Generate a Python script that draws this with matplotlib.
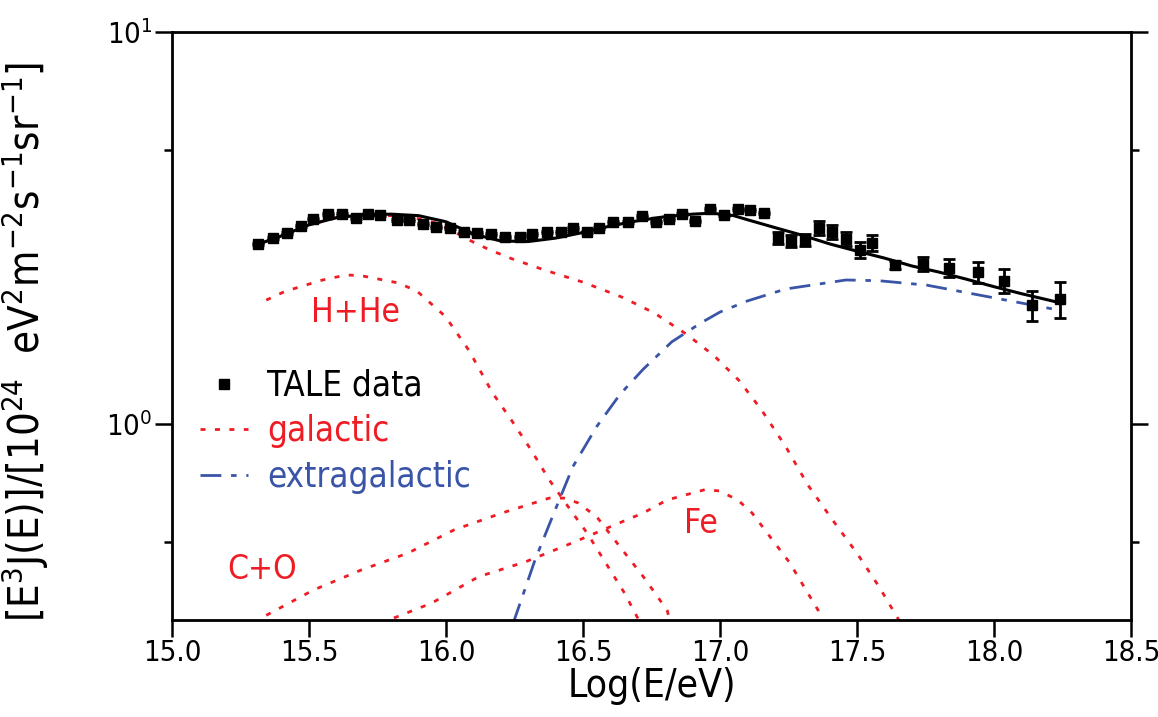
import numpy as np
import matplotlib
matplotlib.use('Agg')
import matplotlib.pyplot as plt
from matplotlib.ticker import FixedLocator, NullFormatter
from matplotlib.lines import Line2D

#narrow sans to get close to the original lettering
plt.rcParams['font.family'] = ['DejaVu Sans']
plt.rcParams['font.stretch'] = 'condensed'
plt.rcParams['mathtext.fontset'] = 'custom'
plt.rcParams['mathtext.rm'] = 'DejaVu Sans:stretch=condensed'
plt.rcParams['mathtext.it'] = 'DejaVu Sans:stretch=condensed'
plt.rcParams['mathtext.bf'] = 'DejaVu Sans:stretch=condensed'

RED = '#ee1c24'
BLUE = '#3a55a8'

#TALE data points
tale_logE = [15.315, 15.37, 15.42, 15.47, 15.515, 15.57, 15.62, 15.67, 15.715, 15.76,
             15.82, 15.865, 15.915, 15.965, 16.015, 16.065, 16.115, 16.165, 16.215, 16.27,
             16.315, 16.37, 16.42, 16.465, 16.515, 16.56, 16.61, 16.665, 16.715, 16.765,
             16.815, 16.86, 16.91, 16.965, 17.015, 17.065, 17.11, 17.16, 17.21, 17.26,
             17.31, 17.36, 17.41, 17.46, 17.51, 17.555, 17.64, 17.74, 17.835, 17.94,
             18.035, 18.14, 18.24]
tale_flux = [2.88, 2.98, 3.07, 3.20, 3.33, 3.43, 3.43, 3.36, 3.43, 3.41,
             3.31, 3.31, 3.24, 3.18, 3.16, 3.09, 3.07, 3.05, 3.00, 3.00,
             3.05, 3.09, 3.09, 3.16, 3.09, 3.16, 3.28, 3.28, 3.39, 3.28,
             3.33, 3.43, 3.30, 3.54, 3.41, 3.54, 3.51, 3.45, 2.98, 2.93,
             2.95, 3.16, 3.09, 2.96, 2.78, 2.90, 2.54, 2.56, 2.50, 2.44,
             2.32, 2.01, 2.08]
tale_err = [0.02]*38 + [0.11, 0.11, 0.11, 0.13, 0.13, 0.12, 0.13, 0.14,
                        0.06, 0.10, 0.13, 0.15, 0.16, 0.18, 0.22]

#total fit
tot_logE = [15.33, 15.4, 15.5, 15.6, 15.7, 15.8, 15.9, 16.0, 16.1, 16.2,
            16.3, 16.4, 16.5, 16.6, 16.7, 16.8, 16.9, 16.97, 17.05, 17.1,
            17.2, 17.3, 17.4, 17.5, 17.6, 17.7, 17.8, 17.9, 18.0, 18.1,
            18.2, 18.25]
tot_flux = [2.90, 3.02, 3.22, 3.36, 3.42, 3.43, 3.40, 3.28, 3.05, 2.93,
            2.92, 2.98, 3.08, 3.20, 3.30, 3.38, 3.43, 3.45, 3.40, 3.32,
            3.17, 3.03, 2.88, 2.76, 2.65, 2.53, 2.44, 2.34, 2.24, 2.15,
            2.07, 2.03]

#galactic total
gal_logE = [15.33, 15.4, 15.5, 15.6, 15.7, 15.8, 15.9, 15.97, 16.03, 16.1,
            16.16, 16.24, 16.36, 16.5, 16.64, 16.76, 16.88, 16.98, 17.07, 17.15,
            17.24, 17.32, 17.41, 17.5, 17.58, 17.66]
gal_flux = [2.90, 3.02, 3.22, 3.36, 3.41, 3.40, 3.34, 3.25, 3.09, 2.91,
            2.78, 2.64, 2.47, 2.30, 2.11, 1.92, 1.69, 1.49, 1.29, 1.09,
            0.875, 0.70, 0.57, 0.468, 0.385, 0.31]

#galactic components
hhe_logE = [15.344, 15.413, 15.55, 15.637, 15.69, 15.826, 15.895, 15.998, 16.084, 16.17,
            16.24, 16.31, 16.377, 16.446, 16.515, 16.583, 16.652, 16.71]
hhe_flux = [2.07, 2.18, 2.33, 2.40, 2.39, 2.29, 2.18, 1.88, 1.54, 1.20,
            1.02, 0.86, 0.72, 0.615, 0.527, 0.442, 0.37, 0.31]

co_logE = [15.344, 15.516, 15.69, 15.86, 16.03, 16.205, 16.377, 16.43, 16.48, 16.55,
           16.635, 16.72, 16.807, 16.82]
co_flux = [0.325, 0.377, 0.424, 0.468, 0.537, 0.593, 0.647, 0.647, 0.63, 0.58,
           0.486, 0.408, 0.335, 0.31]

fe_logE = [15.81, 15.947, 16.12, 16.29, 16.46, 16.60, 16.72, 16.807, 16.945, 16.997,
           17.065, 17.117, 17.2, 17.255, 17.306, 17.358, 17.37]
fe_flux = [0.32, 0.349, 0.408, 0.445, 0.497, 0.547, 0.593, 0.64, 0.68, 0.675,
           0.64, 0.593, 0.497, 0.442, 0.385, 0.335, 0.31]

#extragalactic
ext_logE = [16.245, 16.325, 16.394, 16.463, 16.55, 16.635, 16.72, 16.824, 16.93, 17.0,
            17.1, 17.24, 17.46, 17.58, 17.755, 17.95, 18.24]
ext_flux = [0.31, 0.45, 0.593, 0.778, 0.985, 1.19, 1.38, 1.62, 1.81, 1.93,
            2.06, 2.21, 2.33, 2.32, 2.26, 2.13, 1.95]

xticks = [15.0, 15.5, 16.0, 16.5, 17.0, 17.5, 18.0, 18.5]

fig = plt.figure(figsize=(11.58, 7.17), dpi=100)
ax = fig.add_axes([0.1485, 0.1353, 0.8282, 0.8201])

dot = (0, (1.8, 3.4))
dashdot = (0, (7.5, 3.5, 2, 3.5))

ax.plot(gal_logE, gal_flux, color=RED, lw=2, ls=dot)
ax.plot(hhe_logE, hhe_flux, color=RED, lw=2, ls=dot)
ax.plot(co_logE, co_flux, color=RED, lw=2, ls=dot)
ax.plot(fe_logE, fe_flux, color=RED, lw=2, ls=dot)
ax.plot(ext_logE, ext_flux, color=BLUE, lw=2, ls=dashdot)
ax.plot(tot_logE, tot_flux, color='black', lw=2.2)
ax.errorbar(tale_logE, tale_flux, yerr=tale_err, fmt='s', color='black', ms=7.5,
            elinewidth=2, capsize=4, capthick=2)

ax.text(15.67, 1.92, 'H+He', color=RED, fontsize=24, ha='center', va='center')
ax.text(15.33, 0.425, 'C+O', color=RED, fontsize=24, ha='center', va='center')
ax.text(16.93, 0.556, 'Fe', color=RED, fontsize=24, ha='center', va='center')

ax.set_yscale('log')
ax.set_xlim(15.0, 18.5)
ax.set_ylim(10**-0.5, 10)
ax.set_xticks(xticks)
ax.set_xticklabels(['%.1f' % t for t in xticks])
ax.yaxis.set_major_locator(FixedLocator([1, 10]))
ax.yaxis.set_minor_locator(FixedLocator([0.5, 5]))
ax.yaxis.set_minor_formatter(NullFormatter())

ax.tick_params(which='both', direction='out', width=1.8, labelsize=21, top=False)
ax.tick_params(axis='y', which='both', right=True)
ax.tick_params(which='major', length=12, pad=2)
ax.tick_params(which='minor', length=6)
for s in ax.spines.values():
    s.set_linewidth(2)

ax.set_xlabel('Log(E/eV)', fontsize=28, labelpad=0)
ax.set_ylabel(r'[E$^3$J(E)]/[10$^{24}$  eV$^2$m$^{-2}$s$^{-1}$sr$^{-1}$]', fontsize=30)
ax.yaxis.set_label_coords(-0.126, 0.473)

handles = [Line2D([], [], marker='s', color='black', ls='none', ms=7.5),
           Line2D([], [], color=RED, lw=2, ls=dot),
           Line2D([], [], color=BLUE, lw=2, ls=dashdot)]
leg = ax.legend(handles, ['TALE data', 'galactic', 'extragalactic'], loc='upper left',
                bbox_to_anchor=(0.029, 0.427), frameon=False, fontsize=25,
                handlelength=1.4, handletextpad=0.55, labelspacing=0.33,
                borderpad=0, borderaxespad=0, numpoints=1)
for txt, c in zip(leg.get_texts(), ['black', RED, BLUE]):
    txt.set_color(c)

fig.savefig('out.png', dpi=100)
